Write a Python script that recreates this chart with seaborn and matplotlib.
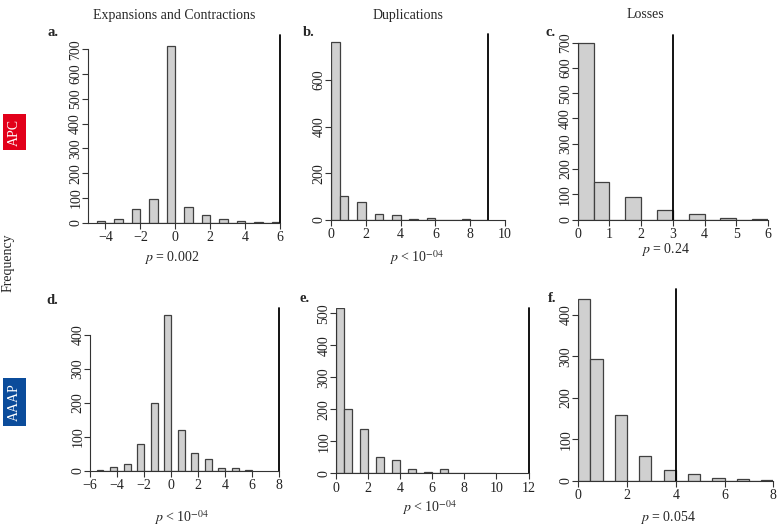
import numpy as np
import pandas as pd
import matplotlib
matplotlib.use('Agg')
import matplotlib.pyplot as plt
import seaborn as sns

sns.set_style('ticks')
plt.rcParams['font.family'] = ['Liberation Serif', 'DejaVu Serif']
plt.rcParams['mathtext.fontset'] = 'stix'

# Data: count per integer value and the observed value (vertical line)
a_vals = list(range(-4, 7))
a_counts = [6, 13, 55, 97, 715, 64, 32, 13, 8, 3, 3]
b_vals = list(range(0, 10))
b_counts = [761, 101, 76, 27, 20, 6, 7, 2, 3, 2]
c_vals = list(range(0, 7))
c_counts = [700, 150, 88, 37, 21, 5, 4]
d_vals = list(range(-5, 7))
d_counts = [2, 11, 20, 78, 199, 459, 120, 54, 34, 10, 8, 2]
e_vals = list(range(0, 11))
e_counts = [517, 200, 137, 51, 41, 15, 4, 12, 1, 2, 2]
f_vals = list(range(0, 9))
f_counts = [439, 294, 158, 59, 27, 17, 6, 5, 1]

observed = [6, 9, 3, 8, 12, 4]
letters = ['a.', 'b.', 'c.', 'd.', 'e.', 'f.']
p_labels = ['$p$ = 0.002', '$p$ < 10$^{-04}$', '$p$ = 0.24',
            '$p$ < 10$^{-04}$', '$p$ < 10$^{-04}$', '$p$ = 0.054']
col_titles = ['Expansions and Contractions', 'Duplications', 'Losses']

panels = [
    dict(vals=a_vals, counts=a_counts, xlim=(-5, 6), xticks=np.arange(-4, 7, 2),
         ylim=758, yticks=np.arange(0, 701, 100),
         rect=[87.8, 222.7, 280.3, 35]),
    dict(vals=b_vals, counts=b_counts, xlim=(0, 10), xticks=np.arange(0, 11, 2),
         ylim=797, yticks=np.arange(0, 601, 200),
         rect=[331, 220, 505, 34]),
    dict(vals=c_vals, counts=c_counts, xlim=(0, 6), xticks=np.arange(0, 7, 1),
         ylim=730, yticks=np.arange(0, 701, 100),
         rect=[577.7, 219.7, 768, 35]),
    dict(vals=d_vals, counts=d_counts, xlim=(-6, 8), xticks=np.arange(-6, 9, 2),
         ylim=479, yticks=np.arange(0, 401, 100),
         rect=[90, 471, 279, 308]),
    dict(vals=e_vals, counts=e_counts, xlim=(0, 12), xticks=np.arange(0, 13, 2),
         ylim=517, yticks=np.arange(0, 501, 100),
         rect=[336, 473.3, 528.5, 308]),
    dict(vals=f_vals, counts=f_counts, xlim=(0, 8), xticks=np.arange(0, 9, 2),
         ylim=463, yticks=np.arange(0, 401, 100),
         rect=[578.3, 480.7, 773.3, 289]),
]

W, H = 778, 527
fig = plt.figure(figsize=(W / 100, H / 100), dpi=100)

for i, p in enumerate(panels):
    x0, y0, x1, y1 = p['rect']
    ax = fig.add_axes([x0 / W, 1 - y0 / H, (x1 - x0) / W, (y0 - y1) / H])
    vals = np.array(p['vals'], dtype=float)
    # R-style right-closed bins of width 0.5: value k -> (k-0.5, k], lowest bin includes 0
    lo = vals.min() - 0.5 if vals.min() < 0 else 0.0
    breaks = np.arange(lo, vals.max() + 0.01, 0.5).tolist()
    df = pd.DataFrame({'pos': np.maximum(vals - 0.25, lo + 0.25),
                       'n': np.array(p['counts'], dtype=float)})
    sns.histplot(data=df, x='pos', weights='n', bins=breaks, ax=ax,
                 color='#d0d0d0', edgecolor='#404040', linewidth=0.9, alpha=1)
    ax.axvline(observed[i], color='black', linewidth=1.3, clip_on=False)
    ax.set_xlim(*p['xlim'])
    ax.set_ylim(0, p['ylim'])
    ax.set_xticks(p['xticks'])
    ax.set_yticks(p['yticks'])
    ax.set_xticklabels([str(t).replace('-', '\u2212') for t in p['xticks']])
    ax.set_xlabel('')
    ax.set_ylabel('')
    sns.despine(ax=ax)
    ax.spines['bottom'].set_bounds(*p['xlim'])
    ax.spines['left'].set_bounds(0, p['yticks'][-1])
    for s in ['bottom', 'left']:
        ax.spines[s].set_linewidth(0.8)
        ax.spines[s].set_color('#333333')
    ax.tick_params(axis='both', length=4, width=0.8, color='#333333',
                   labelsize=10, labelcolor='#222222')
    ax.tick_params(axis='x', pad=2)
    ax.tick_params(axis='y', pad=0)
    for lab in ax.get_yticklabels():
        lab.set_rotation(90)
        lab.set_va('center')
    ax.patch.set_alpha(0)

# Column titles
for x, t in zip([174, 408, 645], col_titles):
    fig.text(x / W, 1 - 15 / H, t, ha='center', va='center', fontsize=10)

# Panel letters
letter_pos = [(47, 32), (303, 32), (545, 32), (46, 300), (299, 299), (548, 298)]
for (x, y), t in zip(letter_pos, letters):
    fig.text(x / W, 1 - y / H, t, ha='left', va='center', fontsize=10.5, fontweight='bold')

# p-values
p_pos = [(172, 257), (417, 258), (665, 250), (182, 518), (430, 508), (668, 517)]
for (x, y), t in zip(p_pos, p_labels):
    fig.text(x / W, 1 - y / H, t, ha='center', va='center', fontsize=10)

# Shared y label and row tags
fig.text(8 / W, 1 - 263 / H, 'Frequency', rotation=90, ha='center', va='center', fontsize=10)
fig.text(14.5 / W, 1 - 132 / H, 'APC', rotation=90, ha='center', va='center', fontsize=10,
         color='white', bbox=dict(boxstyle='square,pad=0.35', fc='#e2001a', ec='none'))
fig.text(14.5 / W, 1 - 402 / H, 'AAAP', rotation=90, ha='center', va='center', fontsize=10,
         color='white', bbox=dict(boxstyle='square,pad=0.35', fc='#0b4c9b', ec='none'))

fig.savefig('out.png', dpi=100, facecolor='white')
